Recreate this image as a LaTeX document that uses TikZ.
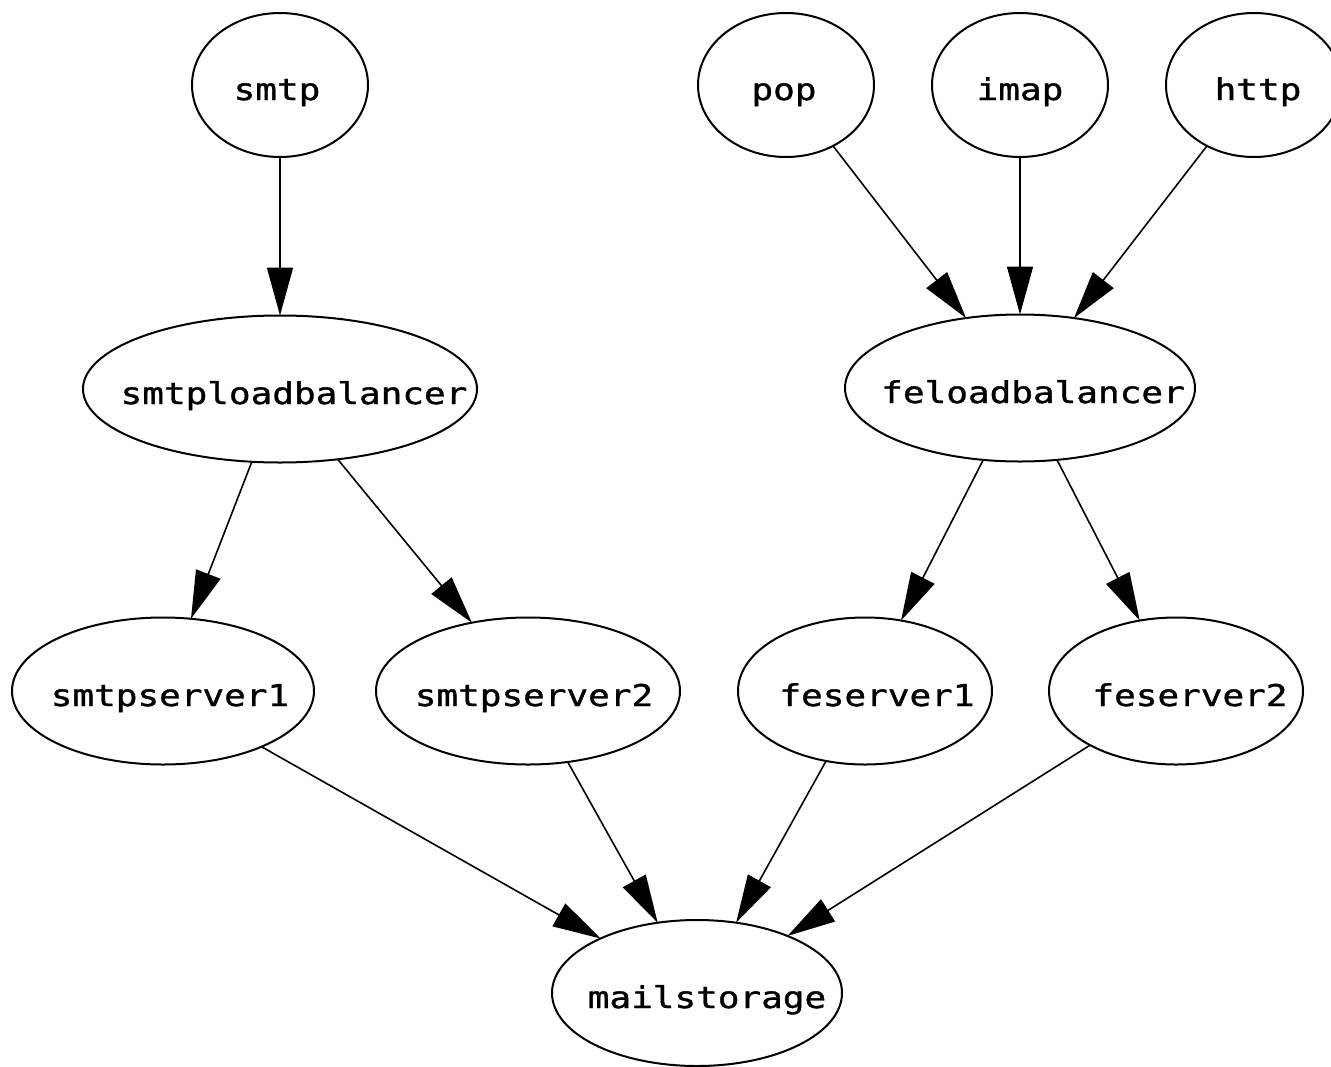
\documentclass[tikz,border=0pt]{standalone}
\usepackage{fontspec}
\newfontfamily\gvmono[FakeStretch=1.2,FakeBold=1.2]{DejaVu Sans Mono}
\usetikzlibrary{arrows.meta,shapes.geometric}
\newcommand\gvlbl[2]{\makebox[0pt]{\kern#1pt #2\kern-#1pt}}
\begin{document}
\begin{tikzpicture}[x=1pt,y=-1pt,
  gv/.style={ellipse, draw, line width=2pt, inner sep=0pt, outer sep=0pt,
    font=\gvmono\fontsize{30}{32}\selectfont, text height=30pt, text depth=0pt},
  small/.style={minimum width=176pt, minimum height=144pt},
  ed/.style={-{Triangle[length=48pt,width=26pt]}, line width=1.6pt}]
\fill[white] (0,0) rectangle (1331,1066);
\useasboundingbox (0,0) rectangle (1331,1066);
\node[gv, small] (smtp) at (280,85) {\gvlbl{-3}{smtp}};
\node[gv, small] (pop) at (786,85) {\gvlbl{-2}{pop}};
\node[gv, small] (imap) at (1020,85) {\gvlbl{0}{imap}};
\node[gv, small] (http) at (1254,85) {\gvlbl{4}{http}};
\node[gv, minimum width=394pt, minimum height=147pt] (smtplb) at (280,389) {\gvlbl{14}{smtploadbalancer}};
\node[gv, minimum width=350pt, minimum height=147pt] (felb) at (1020,388) {\gvlbl{13}{feloadbalancer}};
\node[gv, minimum width=302pt, minimum height=147pt] (ss1) at (163,691) {\gvlbl{7}{smtpserver1}};
\node[gv, minimum width=304pt, minimum height=147pt] (ss2) at (528,691) {\gvlbl{6}{smtpserver2}};
\node[gv, minimum width=254pt, minimum height=147pt] (fs1) at (865,691) {\gvlbl{12}{feserver1}};
\node[gv, minimum width=254pt, minimum height=147pt] (fs2) at (1176,691) {\gvlbl{14}{feserver2}};
\node[gv, minimum width=290pt, minimum height=146pt] (ms) at (697,993) {\gvlbl{10}{mailstorage}};
\draw[ed] (smtp) -- (smtplb);
\draw[ed] (pop) -- (felb);
\draw[ed] (imap) -- (felb);
\draw[ed] (http) -- (felb);
\draw[ed] (smtplb) -- (ss1);
\draw[ed] (smtplb) -- (ss2);
\draw[ed] (felb) -- (fs1);
\draw[ed] (felb) -- (fs2);
\draw[ed] (ss1) -- (ms);
\draw[ed] (ss2) -- (ms);
\draw[ed] (fs1) -- (ms);
\draw[ed] (fs2) -- (ms);
\end{tikzpicture}
\end{document}
